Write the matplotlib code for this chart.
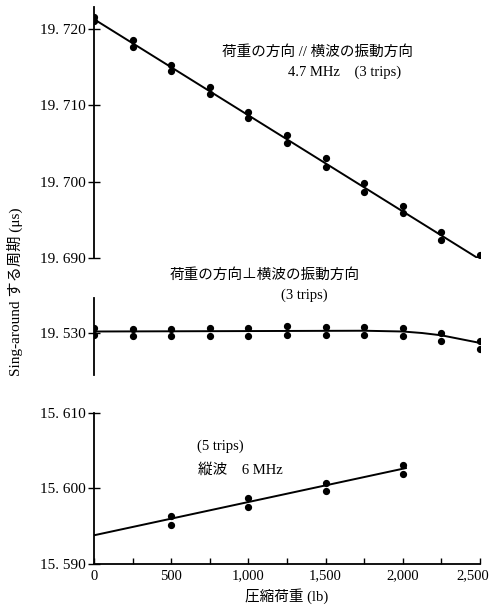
import matplotlib
matplotlib.use("Agg")
import matplotlib.pyplot as plt
from matplotlib.ticker import FuncFormatter
from matplotlib.transforms import ScaledTranslation

plt.rcParams["font.family"] = ["Liberation Serif", "Noto Sans CJK JP"]

# compressive load (lb)
load = [0, 250, 500, 750, 1000, 1250, 1500, 1750, 2000, 2250, 2500]

# shear wave, load // vibration, 4.7 MHz
top_hi = [19.7216, 19.7186, 19.7153, 19.7124, 19.7092, 19.7061, 19.7031, 19.6998, 19.6968, 19.6934, 19.6904]
top_lo = [19.7210, 19.7177, 19.7145, 19.7115, 19.7083, 19.7051, 19.7019, 19.6986, 19.6959, 19.6924, 19.6895]
top_fit_x = [0, 2500]
top_fit_y = [19.7213, 19.6898]

# shear wave, load perpendicular to vibration
mid_hi = [19.5307, 19.5305, 19.5305, 19.5306, 19.5306, 19.5309, 19.5308, 19.5308, 19.5307, 19.5300, 19.5289]
mid_lo = [19.5297, 19.5296, 19.5296, 19.5296, 19.5296, 19.5297, 19.5297, 19.5297, 19.5296, 19.5289, 19.5279]
mid_fit_x = [0, 1750, 2000, 2125, 2250, 2375, 2500]
mid_fit_y = [19.5302, 19.5303, 19.5302, 19.5300, 19.5297, 19.5292, 19.5287]

# longitudinal wave, 6 MHz
bot_load = [500, 1000, 1500, 2000]
bot_hi = [15.5963, 15.5988, 15.6007, 15.6031]
bot_lo = [15.5951, 15.5975, 15.5996, 15.6019]
bot_fit_x = [0, 2020]
bot_fit_y = [15.5938, 15.6027]

x_ticks = [0, 500, 1000, 1500, 2000, 2500]
x_labels = ["0", "500", "1,000", "1,500", "2,000", "2,500"]

fig = plt.figure(figsize=(4.93, 6.08), dpi=100)
left, width = 0.1907, 0.7829
ax_top = fig.add_axes([left, 0.5757, width, 0.4128])
ax_mid = fig.add_axes([left, 0.3832, width, 0.1266])
ax_bot = fig.add_axes([left, 0.0724, width, 0.2484])

fmt = FuncFormatter(lambda v, _: f"{v:.3f}".replace(".", ". "))
mk = dict(color="black", marker="o", ms=4.2, ls="none")

for ax in (ax_top, ax_mid, ax_bot):
    ax.set_xlim(0, 2500)
    ax.spines["top"].set_visible(False)
    ax.spines["right"].set_visible(False)
    ax.spines["left"].set_linewidth(1.3)
    ax.yaxis.set_major_formatter(fmt)
    ax.tick_params(axis="y", direction="inout", length=8, width=1, labelsize=11, pad=2)
    ax.patch.set_alpha(0)

for ax in (ax_top, ax_mid):
    ax.spines["bottom"].set_visible(False)
    ax.set_xticks([])

ax_top.plot(top_fit_x, top_fit_y, color="black", lw=1.4)
ax_top.plot(load, top_hi, **mk)
ax_top.plot(load, top_lo, **mk)
ax_top.set_ylim(19.690, 19.7229)
ax_top.set_yticks([19.690, 19.700, 19.710, 19.720])
ax_top.text(0.58, 0.82, "荷重の方向 // 横波の振動方向", transform=ax_top.transAxes,
            ha="center", va="center", fontsize=10.5)
ax_top.text(0.65, 0.741, "4.7 MHz　(3 trips)", transform=ax_top.transAxes,
            ha="center", va="center", fontsize=10.5)

ax_mid.plot(mid_fit_x, mid_fit_y, color="black", lw=1.4)
ax_mid.plot(load, mid_hi, **mk)
ax_mid.plot(load, mid_lo, **mk)
ax_mid.set_ylim(19.52449, 19.53459)
ax_mid.set_yticks([19.530])
ax_mid.text(0.443, 1.30, "荷重の方向⊥横波の振動方向", transform=ax_mid.transAxes,
            ha="center", va="center", fontsize=10.5)
ax_mid.text(0.545, 1.04, "(3 trips)", transform=ax_mid.transAxes,
            ha="center", va="center", fontsize=10.5)

ax_bot.plot(bot_fit_x, bot_fit_y, color="black", lw=1.4)
ax_bot.plot(bot_load, bot_hi, **mk)
ax_bot.plot(bot_load, bot_lo, **mk)
ax_bot.set_ylim(15.590, 15.610)
ax_bot.set_yticks([15.590, 15.600, 15.610])
ax_bot.spines["bottom"].set_linewidth(1.3)
ax_bot.set_xticks(x_ticks)
ax_bot.set_xticklabels(x_labels)
ax_bot.set_xticks(range(250, 2500, 500), minor=True)
ax_bot.tick_params(axis="x", which="both", direction="in", length=4, width=1,
                   labelsize=10.5, pad=4)
# keep the last label inside the figure edge
last = ax_bot.get_xticklabels()[-1]
last.set_transform(last.get_transform() + ScaledTranslation(-5 / 72, 0, fig.dpi_scale_trans))
ax_bot.set_xlabel("圧縮荷重 (lb)", fontsize=10.5, labelpad=4)
ax_bot.text(0.328, 0.78, "(5 trips)", transform=ax_bot.transAxes,
            ha="center", va="center", fontsize=10.5)
ax_bot.text(0.38, 0.62, "縦波　6 MHz", transform=ax_bot.transAxes,
            ha="center", va="center", fontsize=10.5)

fig.text(0.03, 0.52, "Sing-around する周期 (μs)", rotation=90,
         ha="center", va="center", fontsize=11)

fig.savefig("out.png", dpi=100)
